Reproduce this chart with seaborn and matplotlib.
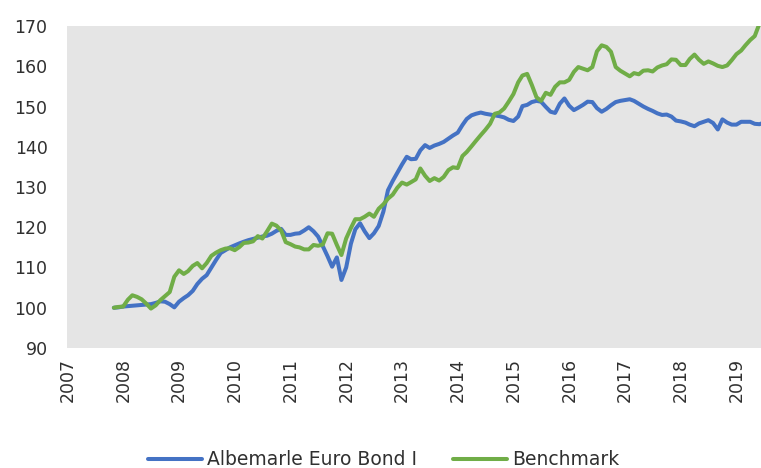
import matplotlib
matplotlib.use('Agg')
import matplotlib.pyplot as plt
import matplotlib.dates as mdates
import pandas as pd
import seaborn as sns

# monthly index values, Oct 2007 -> mid 2019
fund = [100.0, 100.1, 100.3, 100.4, 100.5, 100.6, 100.7, 100.8, 100.9, 101.2,
        101.6, 101.5, 100.9, 100.1, 101.5, 102.4, 103.1, 104.2, 105.9, 107.2,
        108.1, 110.0, 111.9, 113.6, 114.3, 115.0, 115.5, 116.0, 116.4, 116.8,
        117.1, 117.4, 117.7, 117.9, 118.4, 119.1, 119.6, 118.1, 118.1, 118.4,
        118.5, 119.2, 120.0, 119.0, 117.7, 115.3, 112.8, 110.2, 112.5, 106.9,
        110.0, 115.9, 119.5, 121.0, 119.0, 117.3, 118.5, 120.3, 123.9, 129.2,
        131.5, 133.5, 135.6, 137.5, 136.9, 137.0, 139.1, 140.4, 139.7, 140.3,
        140.7, 141.2, 142.0, 142.8, 143.5, 145.4, 146.9, 147.8, 148.2, 148.5,
        148.2, 148.0, 147.8, 147.6, 147.3, 146.7, 146.4, 147.5, 150.1, 150.4,
        151.1, 151.4, 151.2, 149.9, 148.7, 148.4, 150.7, 152.0, 150.2, 149.1,
        149.7, 150.4, 151.2, 151.1, 149.6, 148.7, 149.4, 150.3, 151.1, 151.4,
        151.6, 151.8, 151.4, 150.7, 150.0, 149.4, 148.9, 148.3, 147.9, 148.0,
        147.5, 146.5, 146.3, 146.0, 145.5, 145.1, 145.8, 146.2, 146.6, 145.9,
        144.3, 146.8, 146.0, 145.5, 145.5, 146.2, 146.2, 146.2, 145.7, 145.6,
        146.0]

benchmark = [100.0, 100.2, 100.3, 102.0, 103.1, 102.7, 102.1, 101.0, 99.8, 100.6,
             101.9, 102.9, 103.9, 107.7, 109.3, 108.4, 109.1, 110.4, 111.1, 109.8,
             111.1, 112.9, 113.7, 114.3, 114.7, 114.8, 114.3, 115.1, 116.1, 116.2,
             116.5, 117.8, 117.2, 119.0, 120.9, 120.4, 119.2, 116.3, 115.8, 115.2,
             115.0, 114.5, 114.5, 115.6, 115.4, 115.7, 118.5, 118.4, 115.6, 113.1,
             117.2, 119.8, 122.0, 122.0, 122.6, 123.4, 122.6, 124.6, 125.7, 127.1,
             128.1, 129.8, 131.1, 130.6, 131.2, 131.9, 134.6, 132.8, 131.5, 132.2,
             131.6, 132.5, 134.2, 134.9, 134.7, 137.7, 138.7, 140.1, 141.5, 142.9,
             144.2, 145.7, 148.2, 148.5, 149.5, 151.2, 153.1, 156.0, 157.7, 158.1,
             155.4, 152.3, 151.4, 153.4, 152.9, 154.9, 156.0, 156.0, 156.6, 158.6,
             159.8, 159.4, 159.0, 159.8, 163.7, 165.2, 164.8, 163.6, 159.8, 158.9,
             158.2, 157.5, 158.3, 158.0, 158.9, 159.0, 158.7, 159.7, 160.2, 160.5,
             161.7, 161.6, 160.3, 160.3, 161.8, 162.9, 161.6, 160.6, 161.2, 160.7,
             160.1, 159.8, 160.2, 161.5, 163.0, 163.9, 165.2, 166.5, 167.5, 170.6,
             172.5]

dates = pd.date_range('2007-10-31', periods=len(fund), freq='ME')
series_names = ['Albemarle Euro Bond I', 'Benchmark']
colors = ['#4472C4', '#70AD47']
years = list(range(2007, 2020))
yticks = list(range(90, 171, 10))

df = pd.concat([
    pd.DataFrame({'date': dates, 'value': fund, 'series': series_names[0]}),
    pd.DataFrame({'date': dates, 'value': benchmark, 'series': series_names[1]}),
])

sns.set_style('white')
plt.rcParams['font.family'] = ['DejaVu Sans']
txt = '#303030'

fig = plt.figure(figsize=(7.61, 4.68), dpi=100)
ax = fig.add_axes([67 / 761, 120 / 468, 694 / 761, 322 / 468])
ax.set_facecolor('#E5E5E5')

sns.lineplot(data=df, x='date', y='value', hue='series', hue_order=series_names,
             palette=colors, linewidth=2.9, ax=ax, legend=False)

ax.set_ylim(90, 170)
ax.set_yticks(yticks)
ax.set_xlim(pd.Timestamp('2006-12-28'), pd.Timestamp('2019-06-10'))
ax.set_xticks([pd.Timestamp(f'{y}-01-01') for y in years])
ax.xaxis.set_major_formatter(mdates.DateFormatter('%Y'))
ax.tick_params(axis='x', rotation=90, length=0, pad=7, labelsize=12.5, colors=txt)
ax.tick_params(axis='y', length=0, pad=14, labelsize=12.5, colors=txt)
ax.set_xlabel('')
ax.set_ylabel('')
for s in ax.spines.values():
    s.set_visible(False)

handles = [plt.Line2D([], [], color=c, linewidth=2.9) for c in colors]
fig.legend(handles, series_names, loc='center', bbox_to_anchor=(0.504, 0.018),
           ncol=2, frameon=False, fontsize=13.5, handlelength=2.9, handletextpad=0.27,
           columnspacing=1.9, labelcolor=txt)

fig.savefig('out.png', dpi=100)
